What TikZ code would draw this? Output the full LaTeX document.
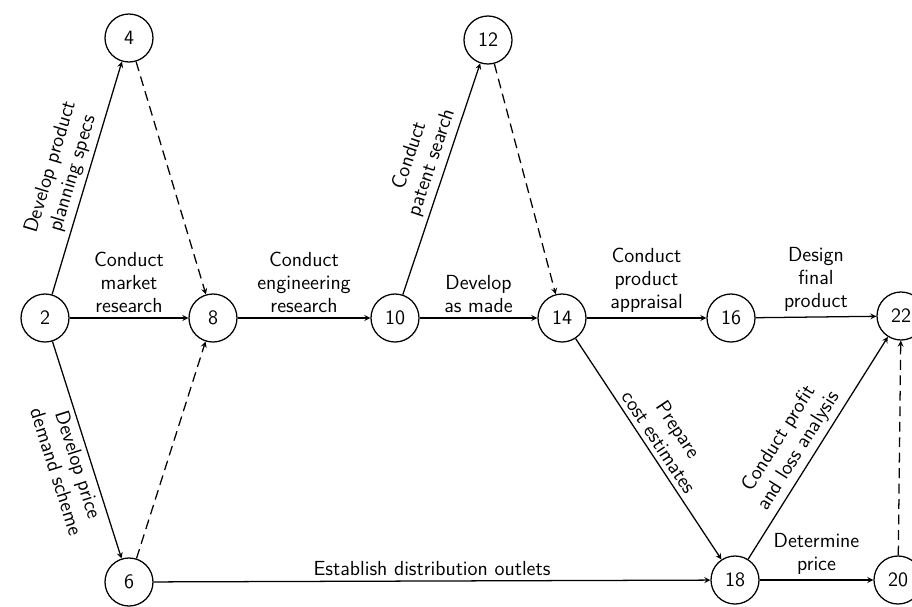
\documentclass[tikz,border=0pt]{standalone}
\usepackage{tikz}
\usetikzlibrary{
    arrows,
    positioning
}
\tikzset{
    event/.style = {
        circle,
        draw,
        line width = 0.9pt,
        minimum size = 1.2cm,
        inner sep = 0pt,
        font = \sffamily\fontsize{14.5}{16.5}\selectfont
    },
    activity/.style = {
        ->,
        >=stealth,
        line width = 0.9pt
    },
    dummy/.style = {
        activity,
        dash pattern = on 7pt off 4pt
    },
    every node/.append style = {
        font = \sffamily\fontsize{14.5}{16.5}\selectfont
    }
}

\begin{document}
\begin{tikzpicture}[x=0.025cm, y=-0.025cm]
        \useasboundingbox (0,0) rectangle (912,606);

        % events
        \node[event] (2) at (45, 318) {2};
        \node[event] (4) at (129, 38) {4};
        \node[event] (6) at (129, 582) {6};
        \node[event] (8) at (213, 318) {8};
        \node[event] (10) at (395, 318) {10};
        \node[event] (12) at (488, 40) {12};
        \node[event] (14) at (562, 318) {14};
        \node[event] (16) at (731, 318) {16};
        \node[event] (22) at (901, 316) {22};
        \node[event] (18) at (735, 580) {18};
        \node[event] (20) at (898, 580) {20};

        % activities
        \draw[activity] (2) -- node[sloped, above, align=center] {Develop product\\planning specs} (4);
        \draw[activity] (2) -- node[above, align=center] {Conduct\\market\\research} (8);
        \draw[activity] (2) -- node[sloped, below, align=center, pos=0.55] {Develop price\\demand scheme} (6);
        \draw[activity] (8) -- node[above, align=center] {Conduct\\engineering\\research} (10);
        \draw[activity] (10) -- node[sloped, above, align=center, pos=0.55] {Conduct\\patent search} (12);
        \draw[activity] (10) -- node[above, align=center] {Develop\\as made} (14);
        \draw[activity] (14) -- node[above, align=center] {Conduct\\product\\appraisal} (16);
        \draw[activity] (16) -- node[above, align=center] {Design\\final\\product} (22);
        \draw[activity] (14) -- node[sloped, above, align=center] {Prepare\\cost estimates} (18);
        \draw[activity] (6) -- node[above] {Establish distribution outlets} (18);
        \draw[activity] (18) -- node[sloped, above, align=center, pos=0.45] {Conduct profit\\and loss analysis} (22);
        \draw[activity] (18) -- node[above, align=center] {Determine\\price} (20);

        % dummies
        \draw[dummy] (4) -- (8);
        \draw[dummy] (6) -- (8);
        \draw[dummy] (12) -- (14);
        \draw[dummy] (20) -- (22);
    \end{tikzpicture}
\end{document}
